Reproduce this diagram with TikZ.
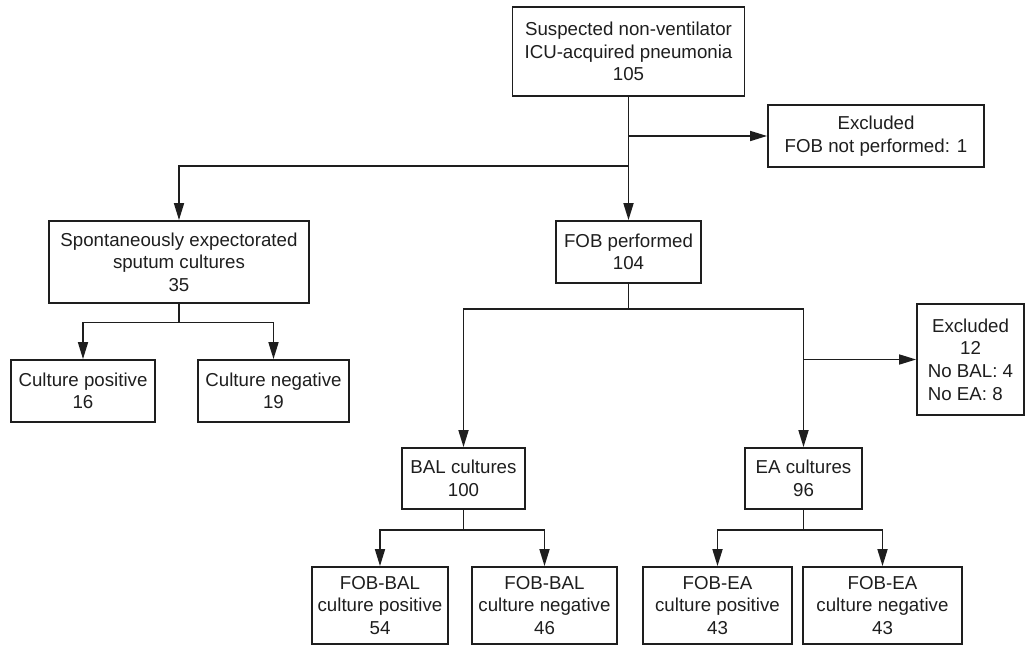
\documentclass[tikz,border=0pt]{standalone}
\usepackage{fontspec}
\usepackage{calc}
\setmainfont{Liberation Sans}
\usetikzlibrary{arrows.meta}
\definecolor{ink}{HTML}{1E1E1E}
\tikzset{
  x=1pt, y=-1pt,
  box/.style={draw=ink, line width=1.8pt, align=center, inner sep=0pt,
    font=\fontsize{18.7}{22.6}\selectfont, text=ink},
  conn/.style={draw=ink, line width=1.7pt},
  arr/.style={conn, -{Triangle[length=17pt,width=10pt]}},
}
\begin{document}
\begin{tikzpicture}
\useasboundingbox (0,0) rectangle (1026,645);
% nodes
\node[box, minimum width=232pt, minimum height=89pt] (top) at (628.5,51.5)
  {Suspected non-ventilator\\ICU-acquired pneumonia\\105};
\node[box, minimum width=216pt, minimum height=62pt] (ex1) at (876,136)
  {Excluded\\FOB not performed: 1};
\node[box, minimum width=260pt, minimum height=82pt] (spont) at (179,262)
  {Spontaneously expectorated\\sputum cultures\\35};
\node[box, minimum width=145pt, minimum height=62pt] (fob) at (628.5,252)
  {FOB performed\\104};
\node[box, minimum width=144pt, minimum height=62pt] (cpos) at (83,391)
  {Culture positive\\16};
\node[box, minimum width=151pt, minimum height=62pt] (cneg) at (273.5,391)
  {Culture negative\\19};
\node[box, minimum width=107pt, minimum height=111pt] (ex2) at (970.5,359.5)
  {Excluded\\12\\No BAL: 4\\\makebox[\widthof{No BAL: 4}][l]{No EA: 8}};
\node[box, minimum width=123pt, minimum height=61pt] (bal) at (463.5,478.5)
  {BAL cultures\\100};
\node[box, minimum width=117pt, minimum height=61pt] (ea) at (803.5,478.5)
  {EA cultures\\96};
\node[box, minimum width=136pt, minimum height=77pt] (fbp) at (380,605.5)
  {FOB-BAL\\culture positive\\54};
\node[box, minimum width=145pt, minimum height=77pt] (fbn) at (544.5,605.5)
  {FOB-BAL\\culture negative\\46};
\node[box, minimum width=149pt, minimum height=77pt] (fep) at (717.5,605.5)
  {FOB-EA\\culture positive\\43};
\node[box, minimum width=159pt, minimum height=77pt] (fen) at (882.5,605.5)
  {FOB-EA\\culture negative\\43};
% junction coordinates
\coordinate (j1) at (628.5,166);
\coordinate (j2) at (179,322.5);
\coordinate (j3) at (628.5,309);
\coordinate (j4) at (463.5,530);
\coordinate (j5) at (803.5,530);
% connectors
\draw[arr] (top.south) -- (fob.north);
\draw[arr] (top.south |- ex1.west) -- (ex1.west);
\draw[arr] (j1) -| (spont.north);
\draw[conn] (spont.south) -- (j2);
\draw[arr] (j2) -| (cpos.north);
\draw[arr] (j2) -| (cneg.north);
\draw[conn] (fob.south) -- (j3);
\draw[arr] (j3) -| (bal.north);
\draw[arr] (j3) -| (ea.north);
\draw[arr] (ea.north |- ex2.west) -- (ex2.west);
\draw[conn] (bal.south) -- (j4);
\draw[arr] (j4) -| (fbp.north);
\draw[arr] (j4) -| (fbn.north);
\draw[conn] (ea.south) -- (j5);
\draw[arr] (j5) -| (fep.north);
\draw[arr] (j5) -| (fen.north);
\end{tikzpicture}
\end{document}
